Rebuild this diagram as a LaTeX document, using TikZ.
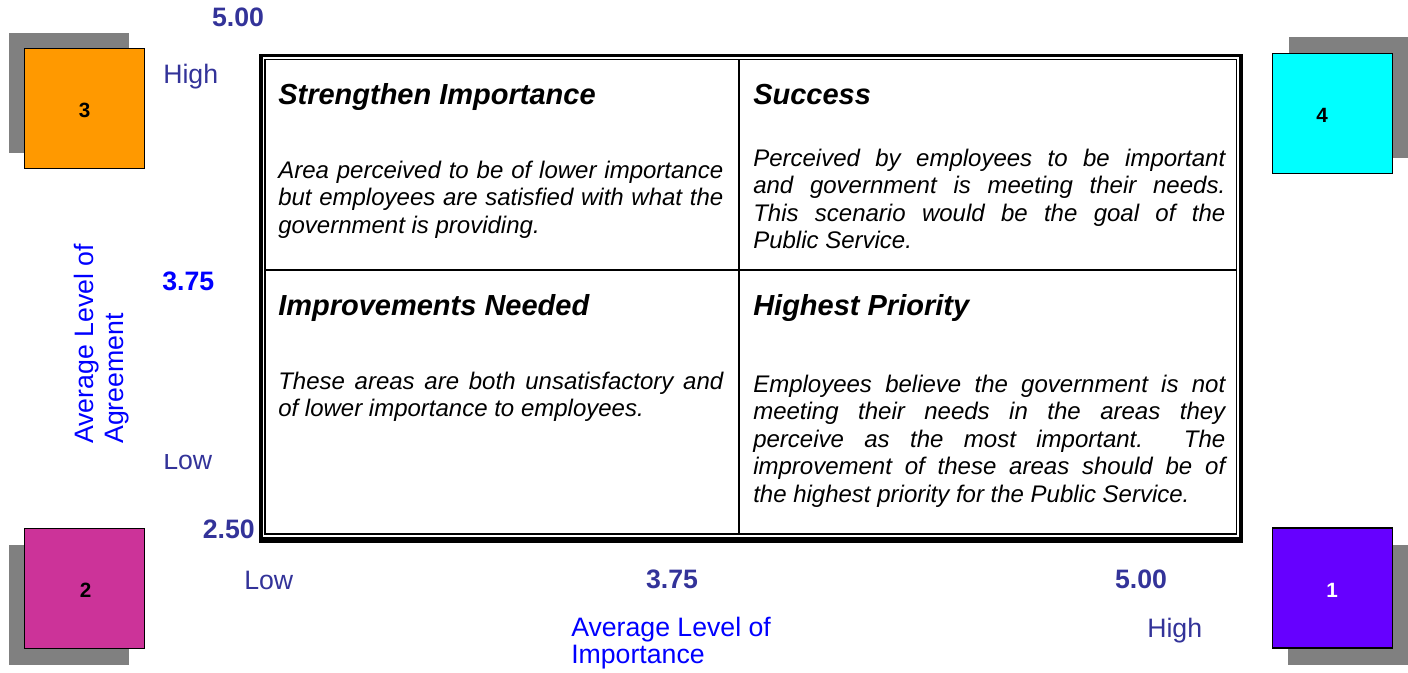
\documentclass[tikz,border=0pt]{standalone}
\usepackage{fontspec}
\setmainfont{Liberation Sans}
\usetikzlibrary{positioning}

\definecolor{axisblue}{HTML}{333399}
\definecolor{labelblue}{HTML}{0000FF}
\definecolor{boxorange}{HTML}{FF9900}
\definecolor{boxmagenta}{HTML}{CC3399}
\definecolor{boxcyan}{HTML}{00FFFF}
\definecolor{boxviolet}{HTML}{6600FF}
\definecolor{shadowgrey}{HTML}{808080}

% one quadrant paragraph, justified
\newcommand{\quadpar}[2]{\parbox[t]{#1}{\fontsize{18}{20.7}\selectfont\itshape
  \hyphenpenalty=10000 #2}}

\tikzset{
  quadtitle/.style={anchor=base west,inner sep=0pt,
    font=\fontsize{21.75}{24}\selectfont\bfseries\itshape},
  quadtext/.style={anchor=base west,inner sep=0pt},
  axislabel/.style={inner sep=0pt,text=axisblue,font=\fontsize{20}{24}\selectfont},
  axisnum/.style={axislabel,font=\fontsize{20}{24}\selectfont\bfseries},
  numbox/.style={draw=black,line width=1.1pt,minimum size=90pt,inner sep=0pt},
  boxnum/.style={inner sep=0pt,font=\fontsize{15.5}{16}\selectfont\bfseries},
  shadow/.style={fill=shadowgrey}
}

\begin{document}
\begin{tikzpicture}[x=0.75pt,y=-0.75pt]
  \useasboundingbox (0,0) rectangle (1408,672);

  % corner squares
  \fill[shadow] (9,33) rectangle (129,153);
  \fill[shadow] (9,545) rectangle (129,665);
  \fill[shadow] (1289,37) rectangle (1408,158);
  \fill[shadow] (1288,545) rectangle (1408,665);
  \node[numbox,fill=boxorange](box3)at(84.5,108.5){};
  \node[numbox,fill=boxmagenta](box2)at(84.5,588.5){};
  \node[numbox,fill=boxcyan](box4)at(1332.5,113.5){};
  \node[numbox,fill=boxviolet](box1)at(1332.5,588){};
  \node[boxnum](num3)at(84.5,110.5){3};
  \node[boxnum](num2)at(85.5,590.5){2};
  \node[boxnum](num4)at(1322,115.5){4};
  \node[boxnum,text=white](num1)at(1332,590){1};

  % double frame and the four quadrants
  \fill[black](259,54)rectangle(1243,543);
  \fill[white](262.5,57.3)rectangle(1239.3,536.7);
  \coordinate(ftl)at(264.9,59.7);
  \coordinate(fbr)at(1236.7,534.2);
  \draw[line width=1.1pt](ftl)rectangle(fbr);
  \draw[line width=1.1pt](739,59.7)--(739,534.2);
  \draw[line width=1.1pt](264.9,270)--(1236.7,270);

  \node[quadtitle](tltitle)at(278,104){Strengthen Importance};
  \node[quadtitle](trtitle)at(753,104){Success};
  \node[quadtitle](bltitle)at(278,315){Improvements Needed};
  \node[quadtitle](brtitle)at(753,315){Highest Priority};

  \node[quadtext](tltext)at(278,178){\quadpar{333.75pt}{Area perceived to be of lower importance\linebreak
    but employees are satisfied with what the\linebreak government is providing.}};
  \node[quadtext](trtext)at(753,166){\quadpar{354pt}{Perceived by employees to be important\linebreak
    and government is meeting their needs.\linebreak This scenario would be the goal of the\linebreak
    Public Service.}};
  \node[quadtext](bltext)at(278,389){\quadpar{333.75pt}{These areas are both unsatisfactory and\linebreak
    of lower importance to employees.}};
  \node[quadtext](brtext)at(753,392){\quadpar{354pt}{Employees believe the government is not\linebreak
    meeting their needs in the areas they\linebreak perceive as the most important.\ \ The\linebreak
    improvement of these areas should be of\linebreak the highest priority for the Public Service.}};

  % vertical scale
  \node[axisnum,anchor=base](ytop)at(238,26){5.00};
  \node[axislabel,anchor=base west](yhigh)at(163,83){High};
  \node[axisnum,text=labelblue,anchor=base west](ymid)at(162,290){3.75};
  \begin{scope}
    \clip(150,454.5)rectangle(240,480);
    \node[axislabel,anchor=base west](ylow)at(163,469){Low};
  \end{scope}
  \node[axisnum,anchor=base east](ybottom)at(255,538){2.50};
  \node[axislabel,text=labelblue,rotate=90,anchor=base west](ytitle)at(93.5,444)
    {\parbox[t]{220pt}{\fontsize{20}{22.5}\selectfont Average Level of\\Agreement}};

  % horizontal scale
  \node[axislabel,anchor=base west](xlow)at(244,589){Low};
  \node[axisnum,anchor=base](xmid)at(672,588){3.75};
  \node[axisnum,anchor=base](xtop)at(1141,588){5.00};
  \node[axislabel,anchor=base west](xhigh)at(1147,637){High};
  \node[axislabel,text=labelblue,anchor=base west](xtitle)at(571,636)
    {\parbox[t]{200pt}{\fontsize{20}{20.25}\selectfont Average Level of\\Importance}};
\end{tikzpicture}
\end{document}
